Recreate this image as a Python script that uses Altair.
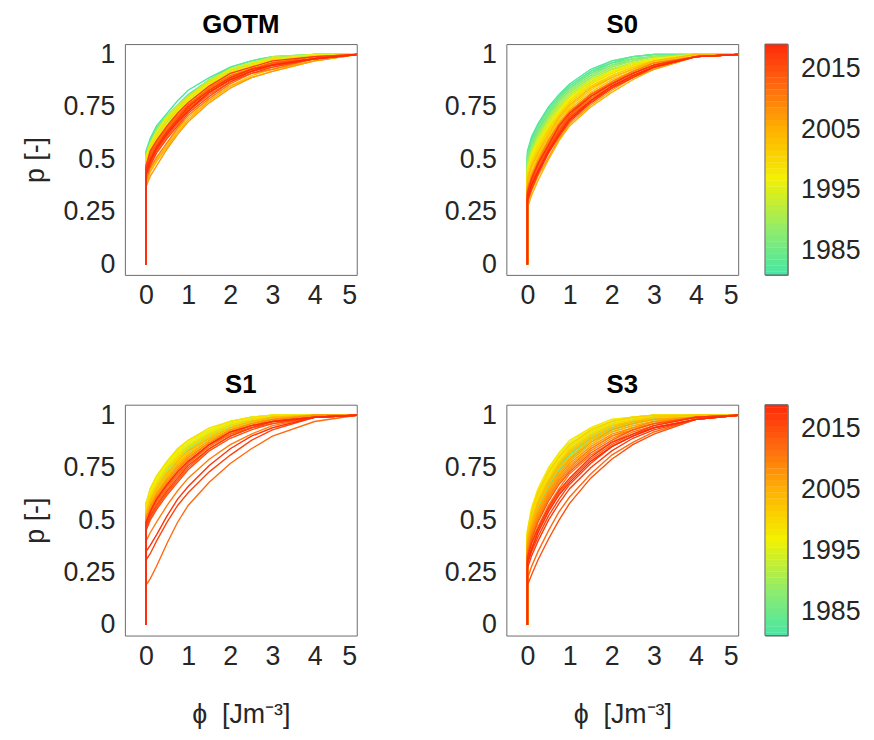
import altair as alt
import pandas as pd

YEARS = list(range(1981, 2020))
PHI = [0.0, 0.0, 0.1, 0.25, 0.5, 0.75, 1.0, 1.5, 2.0, 2.5, 3.0, 4.0, 5.0]
P_START = 0.0

GOTM = [
    [0.54, 0.60, 0.66, 0.72, 0.78, 0.83, 0.89, 0.94, 0.97, 0.99, 1.00, 1.00],
    [0.52, 0.58, 0.64, 0.70, 0.75, 0.80, 0.88, 0.93, 0.96, 0.98, 1.00, 1.00],
    [0.53, 0.59, 0.65, 0.71, 0.76, 0.81, 0.88, 0.94, 0.97, 0.99, 1.00, 1.00],
    [0.51, 0.57, 0.63, 0.69, 0.74, 0.80, 0.87, 0.92, 0.96, 0.98, 0.99, 1.00],
    [0.53, 0.58, 0.63, 0.70, 0.75, 0.80, 0.88, 0.93, 0.96, 0.98, 1.00, 1.00],
    [0.50, 0.56, 0.62, 0.69, 0.74, 0.79, 0.87, 0.92, 0.95, 0.98, 0.99, 1.00],
    [0.50, 0.55, 0.61, 0.68, 0.73, 0.79, 0.86, 0.91, 0.95, 0.97, 0.99, 1.00],
    [0.51, 0.57, 0.62, 0.69, 0.75, 0.80, 0.87, 0.93, 0.96, 0.98, 0.99, 1.00],
    [0.49, 0.55, 0.60, 0.67, 0.73, 0.78, 0.85, 0.91, 0.94, 0.97, 0.99, 1.00],
    [0.51, 0.56, 0.62, 0.68, 0.74, 0.79, 0.86, 0.92, 0.95, 0.98, 0.99, 1.00],
    [0.49, 0.55, 0.61, 0.68, 0.74, 0.78, 0.86, 0.92, 0.95, 0.97, 0.99, 1.00],
    [0.52, 0.58, 0.64, 0.71, 0.76, 0.80, 0.88, 0.93, 0.96, 0.99, 1.00, 1.00],
    [0.48, 0.54, 0.60, 0.67, 0.72, 0.78, 0.86, 0.91, 0.94, 0.97, 0.99, 1.00],
    [0.50, 0.56, 0.62, 0.69, 0.74, 0.79, 0.87, 0.92, 0.95, 0.97, 0.99, 1.00],
    [0.48, 0.54, 0.59, 0.66, 0.72, 0.77, 0.85, 0.90, 0.94, 0.96, 0.99, 1.00],
    [0.51, 0.57, 0.63, 0.70, 0.75, 0.79, 0.87, 0.93, 0.96, 0.98, 1.00, 1.00],
    [0.47, 0.53, 0.58, 0.65, 0.71, 0.76, 0.84, 0.90, 0.94, 0.96, 0.99, 1.00],
    [0.49, 0.54, 0.60, 0.67, 0.73, 0.78, 0.86, 0.91, 0.95, 0.97, 0.99, 1.00],
    [0.50, 0.56, 0.61, 0.69, 0.74, 0.80, 0.87, 0.92, 0.95, 0.98, 0.99, 1.00],
    [0.46, 0.52, 0.57, 0.64, 0.70, 0.76, 0.83, 0.89, 0.93, 0.96, 0.99, 1.00],
    [0.48, 0.53, 0.59, 0.66, 0.72, 0.77, 0.85, 0.90, 0.94, 0.97, 0.99, 1.00],
    [0.45, 0.51, 0.56, 0.63, 0.70, 0.75, 0.83, 0.89, 0.92, 0.95, 0.98, 1.00],
    [0.39, 0.45, 0.50, 0.57, 0.64, 0.70, 0.78, 0.85, 0.90, 0.93, 0.97, 1.00],
    [0.47, 0.52, 0.58, 0.65, 0.71, 0.76, 0.84, 0.90, 0.93, 0.96, 0.99, 1.00],
    [0.38, 0.44, 0.49, 0.56, 0.63, 0.69, 0.78, 0.85, 0.89, 0.92, 0.97, 1.00],
    [0.44, 0.50, 0.55, 0.62, 0.69, 0.74, 0.82, 0.88, 0.92, 0.95, 0.98, 1.00],
    [0.37, 0.42, 0.47, 0.55, 0.62, 0.68, 0.77, 0.84, 0.89, 0.92, 0.97, 1.00],
    [0.46, 0.51, 0.57, 0.64, 0.70, 0.75, 0.84, 0.89, 0.93, 0.96, 0.98, 1.00],
    [0.44, 0.49, 0.55, 0.62, 0.68, 0.74, 0.82, 0.88, 0.92, 0.95, 0.98, 1.00],
    [0.40, 0.46, 0.51, 0.58, 0.65, 0.71, 0.79, 0.86, 0.91, 0.93, 0.98, 1.00],
    [0.45, 0.51, 0.56, 0.64, 0.69, 0.75, 0.83, 0.89, 0.93, 0.95, 0.98, 1.00],
    [0.46, 0.53, 0.58, 0.65, 0.71, 0.76, 0.84, 0.90, 0.93, 0.96, 0.99, 1.00],
    [0.43, 0.48, 0.54, 0.61, 0.67, 0.73, 0.81, 0.87, 0.92, 0.94, 0.98, 1.00],
    [0.46, 0.52, 0.57, 0.64, 0.70, 0.76, 0.83, 0.89, 0.93, 0.96, 0.98, 1.00],
    [0.45, 0.50, 0.55, 0.63, 0.68, 0.74, 0.82, 0.88, 0.92, 0.95, 0.98, 1.00],
    [0.42, 0.47, 0.53, 0.60, 0.66, 0.72, 0.80, 0.87, 0.91, 0.94, 0.98, 1.00],
    [0.47, 0.54, 0.59, 0.66, 0.72, 0.77, 0.85, 0.91, 0.94, 0.97, 0.99, 1.00],
    [0.45, 0.50, 0.56, 0.63, 0.69, 0.75, 0.83, 0.89, 0.93, 0.95, 0.98, 1.00],
    [0.43, 0.49, 0.55, 0.62, 0.68, 0.73, 0.82, 0.88, 0.92, 0.95, 0.98, 1.00],
]

S0 = [
    [0.54, 0.61, 0.67, 0.75, 0.81, 0.86, 0.93, 0.97, 0.99, 1.00, 1.00, 1.00],
    [0.53, 0.60, 0.66, 0.74, 0.80, 0.85, 0.92, 0.96, 0.99, 1.00, 1.00, 1.00],
    [0.51, 0.58, 0.64, 0.72, 0.79, 0.84, 0.91, 0.96, 0.98, 0.99, 1.00, 1.00],
    [0.52, 0.59, 0.66, 0.74, 0.80, 0.85, 0.92, 0.97, 0.99, 1.00, 1.00, 1.00],
    [0.50, 0.57, 0.63, 0.71, 0.78, 0.83, 0.90, 0.95, 0.97, 0.99, 1.00, 1.00],
    [0.52, 0.58, 0.65, 0.73, 0.79, 0.84, 0.91, 0.95, 0.98, 0.99, 1.00, 1.00],
    [0.49, 0.55, 0.62, 0.70, 0.77, 0.82, 0.89, 0.94, 0.97, 0.99, 1.00, 1.00],
    [0.50, 0.56, 0.63, 0.71, 0.78, 0.83, 0.90, 0.95, 0.98, 0.99, 1.00, 1.00],
    [0.47, 0.54, 0.61, 0.69, 0.76, 0.81, 0.88, 0.93, 0.96, 0.98, 1.00, 1.00],
    [0.48, 0.55, 0.62, 0.70, 0.77, 0.82, 0.89, 0.94, 0.97, 0.99, 1.00, 1.00],
    [0.46, 0.53, 0.59, 0.68, 0.75, 0.80, 0.88, 0.93, 0.96, 0.98, 1.00, 1.00],
    [0.48, 0.54, 0.60, 0.69, 0.76, 0.81, 0.88, 0.93, 0.96, 0.98, 1.00, 1.00],
    [0.45, 0.52, 0.59, 0.67, 0.74, 0.80, 0.87, 0.92, 0.96, 0.98, 1.00, 1.00],
    [0.45, 0.51, 0.58, 0.66, 0.73, 0.79, 0.87, 0.92, 0.95, 0.97, 1.00, 1.00],
    [0.46, 0.53, 0.60, 0.68, 0.74, 0.80, 0.88, 0.92, 0.96, 0.98, 1.00, 1.00],
    [0.43, 0.50, 0.56, 0.65, 0.72, 0.78, 0.86, 0.91, 0.95, 0.97, 1.00, 1.00],
    [0.44, 0.52, 0.58, 0.66, 0.73, 0.79, 0.86, 0.92, 0.95, 0.98, 1.00, 1.00],
    [0.42, 0.49, 0.55, 0.64, 0.71, 0.77, 0.85, 0.90, 0.94, 0.97, 1.00, 1.00],
    [0.44, 0.50, 0.57, 0.65, 0.72, 0.78, 0.86, 0.91, 0.95, 0.97, 0.99, 1.00],
    [0.41, 0.47, 0.54, 0.63, 0.70, 0.76, 0.84, 0.90, 0.94, 0.96, 0.99, 1.00],
    [0.42, 0.48, 0.55, 0.64, 0.71, 0.77, 0.85, 0.90, 0.94, 0.97, 0.99, 1.00],
    [0.39, 0.46, 0.52, 0.61, 0.69, 0.75, 0.83, 0.89, 0.93, 0.96, 0.99, 1.00],
    [0.38, 0.44, 0.51, 0.60, 0.68, 0.74, 0.82, 0.88, 0.92, 0.96, 0.99, 1.00],
    [0.40, 0.47, 0.53, 0.62, 0.70, 0.76, 0.84, 0.89, 0.93, 0.97, 1.00, 1.00],
    [0.27, 0.33, 0.40, 0.50, 0.59, 0.66, 0.75, 0.82, 0.88, 0.93, 0.99, 1.00],
    [0.37, 0.43, 0.50, 0.59, 0.67, 0.73, 0.81, 0.87, 0.92, 0.95, 0.99, 1.00],
    [0.29, 0.35, 0.42, 0.51, 0.60, 0.67, 0.76, 0.83, 0.89, 0.93, 0.99, 1.00],
    [0.35, 0.41, 0.48, 0.58, 0.66, 0.72, 0.80, 0.87, 0.91, 0.95, 0.99, 1.00],
    [0.34, 0.40, 0.47, 0.56, 0.64, 0.71, 0.79, 0.86, 0.91, 0.95, 0.99, 1.00],
    [0.36, 0.42, 0.49, 0.59, 0.67, 0.73, 0.81, 0.87, 0.92, 0.96, 0.99, 1.00],
    [0.32, 0.39, 0.46, 0.55, 0.63, 0.70, 0.79, 0.85, 0.90, 0.94, 0.99, 1.00],
    [0.35, 0.41, 0.48, 0.57, 0.65, 0.72, 0.81, 0.86, 0.91, 0.95, 0.99, 1.00],
    [0.31, 0.37, 0.44, 0.54, 0.62, 0.69, 0.78, 0.84, 0.90, 0.94, 0.99, 1.00],
    [0.33, 0.40, 0.47, 0.56, 0.64, 0.71, 0.80, 0.86, 0.91, 0.95, 0.99, 1.00],
    [0.32, 0.38, 0.45, 0.54, 0.62, 0.69, 0.77, 0.84, 0.89, 0.94, 0.99, 1.00],
    [0.33, 0.39, 0.45, 0.55, 0.63, 0.70, 0.78, 0.85, 0.90, 0.94, 0.99, 1.00],
    [0.30, 0.36, 0.43, 0.53, 0.61, 0.68, 0.77, 0.84, 0.89, 0.94, 0.99, 1.00],
    [0.34, 0.41, 0.48, 0.57, 0.66, 0.72, 0.80, 0.86, 0.91, 0.95, 0.99, 1.00],
    [0.31, 0.38, 0.44, 0.54, 0.62, 0.69, 0.78, 0.85, 0.90, 0.94, 0.99, 1.00],
]

S1 = [
    [0.57, 0.62, 0.67, 0.74, 0.79, 0.84, 0.90, 0.95, 0.97, 0.99, 1.00, 1.00],
    [0.58, 0.63, 0.68, 0.75, 0.80, 0.85, 0.91, 0.95, 0.98, 0.99, 1.00, 1.00],
    [0.55, 0.60, 0.66, 0.72, 0.78, 0.83, 0.89, 0.94, 0.97, 0.99, 1.00, 1.00],
    [0.58, 0.63, 0.68, 0.75, 0.81, 0.85, 0.91, 0.96, 0.98, 0.99, 1.00, 1.00],
    [0.56, 0.61, 0.67, 0.74, 0.79, 0.84, 0.90, 0.95, 0.97, 0.99, 1.00, 1.00],
    [0.53, 0.59, 0.64, 0.71, 0.77, 0.82, 0.89, 0.94, 0.97, 0.99, 1.00, 1.00],
    [0.57, 0.62, 0.68, 0.75, 0.80, 0.85, 0.91, 0.95, 0.98, 0.99, 1.00, 1.00],
    [0.55, 0.61, 0.66, 0.73, 0.79, 0.83, 0.90, 0.95, 0.97, 0.99, 1.00, 1.00],
    [0.57, 0.63, 0.69, 0.76, 0.82, 0.86, 0.92, 0.96, 0.98, 1.00, 1.00, 1.00],
    [0.55, 0.61, 0.66, 0.74, 0.79, 0.84, 0.90, 0.95, 0.97, 0.99, 1.00, 1.00],
    [0.56, 0.62, 0.68, 0.75, 0.81, 0.85, 0.91, 0.96, 0.98, 0.99, 1.00, 1.00],
    [0.57, 0.64, 0.70, 0.77, 0.83, 0.87, 0.93, 0.97, 0.99, 1.00, 1.00, 1.00],
    [0.55, 0.61, 0.67, 0.75, 0.80, 0.85, 0.91, 0.95, 0.98, 0.99, 1.00, 1.00],
    [0.56, 0.63, 0.69, 0.76, 0.82, 0.86, 0.92, 0.96, 0.98, 1.00, 1.00, 1.00],
    [0.58, 0.65, 0.71, 0.78, 0.84, 0.88, 0.93, 0.97, 0.99, 1.00, 1.00, 1.00],
    [0.56, 0.63, 0.69, 0.76, 0.82, 0.86, 0.92, 0.96, 0.98, 0.99, 1.00, 1.00],
    [0.57, 0.64, 0.70, 0.77, 0.83, 0.87, 0.93, 0.97, 0.99, 1.00, 1.00, 1.00],
    [0.55, 0.62, 0.68, 0.75, 0.81, 0.85, 0.92, 0.96, 0.98, 0.99, 1.00, 1.00],
    [0.57, 0.65, 0.71, 0.78, 0.84, 0.88, 0.94, 0.97, 0.99, 1.00, 1.00, 1.00],
    [0.54, 0.61, 0.67, 0.75, 0.80, 0.85, 0.91, 0.95, 0.98, 0.99, 1.00, 1.00],
    [0.53, 0.60, 0.66, 0.73, 0.79, 0.83, 0.90, 0.94, 0.97, 0.99, 1.00, 1.00],
    [0.52, 0.58, 0.64, 0.71, 0.77, 0.82, 0.89, 0.94, 0.97, 0.98, 1.00, 1.00],
    [0.51, 0.57, 0.62, 0.70, 0.76, 0.81, 0.88, 0.93, 0.96, 0.98, 1.00, 1.00],
    [0.53, 0.59, 0.65, 0.72, 0.78, 0.83, 0.89, 0.94, 0.97, 0.99, 1.00, 1.00],
    [0.50, 0.56, 0.61, 0.68, 0.74, 0.80, 0.87, 0.92, 0.96, 0.98, 1.00, 1.00],
    [0.52, 0.57, 0.63, 0.70, 0.76, 0.81, 0.88, 0.93, 0.96, 0.98, 1.00, 1.00],
    [0.49, 0.55, 0.60, 0.67, 0.73, 0.78, 0.86, 0.92, 0.95, 0.97, 0.99, 1.00],
    [0.51, 0.56, 0.62, 0.69, 0.75, 0.80, 0.87, 0.93, 0.96, 0.98, 1.00, 1.00],
    [0.50, 0.55, 0.61, 0.68, 0.74, 0.79, 0.87, 0.92, 0.95, 0.98, 0.99, 1.00],
    [0.40, 0.44, 0.49, 0.57, 0.64, 0.70, 0.79, 0.86, 0.91, 0.95, 0.99, 1.00],
    [0.47, 0.53, 0.58, 0.65, 0.71, 0.77, 0.85, 0.91, 0.94, 0.97, 0.99, 1.00],
    [0.19, 0.22, 0.28, 0.39, 0.49, 0.57, 0.68, 0.77, 0.84, 0.90, 0.97, 1.00],
    [0.48, 0.54, 0.59, 0.66, 0.72, 0.77, 0.86, 0.91, 0.95, 0.97, 0.99, 1.00],
    [0.46, 0.51, 0.56, 0.63, 0.69, 0.75, 0.84, 0.90, 0.94, 0.96, 0.99, 1.00],
    [0.45, 0.50, 0.55, 0.62, 0.68, 0.74, 0.83, 0.89, 0.93, 0.96, 0.99, 1.00],
    [0.31, 0.34, 0.40, 0.49, 0.57, 0.63, 0.73, 0.81, 0.88, 0.93, 0.99, 1.00],
    [0.47, 0.52, 0.57, 0.64, 0.70, 0.76, 0.84, 0.90, 0.94, 0.97, 0.99, 1.00],
    [0.35, 0.38, 0.43, 0.52, 0.60, 0.66, 0.76, 0.84, 0.90, 0.94, 0.99, 1.00],
    [0.49, 0.54, 0.60, 0.67, 0.73, 0.78, 0.86, 0.92, 0.95, 0.97, 0.99, 1.00],
]

S3 = [
    [0.40, 0.48, 0.57, 0.67, 0.75, 0.80, 0.88, 0.93, 0.96, 0.98, 0.99, 1.00],
    [0.41, 0.50, 0.58, 0.68, 0.76, 0.81, 0.89, 0.94, 0.97, 0.98, 1.00, 1.00],
    [0.39, 0.47, 0.56, 0.66, 0.74, 0.79, 0.88, 0.93, 0.96, 0.98, 0.99, 1.00],
    [0.41, 0.51, 0.59, 0.69, 0.77, 0.83, 0.90, 0.95, 0.97, 0.99, 1.00, 1.00],
    [0.40, 0.49, 0.57, 0.67, 0.75, 0.81, 0.89, 0.94, 0.96, 0.98, 0.99, 1.00],
    [0.40, 0.50, 0.58, 0.68, 0.76, 0.82, 0.89, 0.94, 0.97, 0.98, 1.00, 1.00],
    [0.38, 0.46, 0.54, 0.64, 0.72, 0.78, 0.87, 0.92, 0.95, 0.97, 0.99, 1.00],
    [0.42, 0.51, 0.59, 0.69, 0.77, 0.83, 0.90, 0.95, 0.97, 0.99, 1.00, 1.00],
    [0.42, 0.52, 0.60, 0.70, 0.78, 0.84, 0.91, 0.96, 0.98, 0.99, 1.00, 1.00],
    [0.39, 0.48, 0.57, 0.67, 0.75, 0.80, 0.88, 0.94, 0.96, 0.98, 0.99, 1.00],
    [0.43, 0.53, 0.62, 0.72, 0.80, 0.85, 0.92, 0.96, 0.98, 0.99, 1.00, 1.00],
    [0.41, 0.51, 0.59, 0.69, 0.77, 0.82, 0.90, 0.95, 0.97, 0.99, 1.00, 1.00],
    [0.44, 0.54, 0.63, 0.73, 0.81, 0.86, 0.93, 0.97, 0.99, 1.00, 1.00, 1.00],
    [0.42, 0.52, 0.60, 0.70, 0.78, 0.84, 0.91, 0.96, 0.98, 0.99, 1.00, 1.00],
    [0.45, 0.55, 0.64, 0.74, 0.82, 0.87, 0.94, 0.98, 0.99, 1.00, 1.00, 1.00],
    [0.43, 0.53, 0.61, 0.71, 0.79, 0.85, 0.92, 0.97, 0.98, 0.99, 1.00, 1.00],
    [0.44, 0.54, 0.63, 0.73, 0.81, 0.86, 0.93, 0.97, 0.99, 1.00, 1.00, 1.00],
    [0.45, 0.56, 0.65, 0.75, 0.82, 0.88, 0.94, 0.98, 0.99, 1.00, 1.00, 1.00],
    [0.43, 0.52, 0.61, 0.72, 0.80, 0.85, 0.92, 0.96, 0.98, 0.99, 1.00, 1.00],
    [0.42, 0.52, 0.60, 0.70, 0.78, 0.84, 0.91, 0.95, 0.98, 0.99, 1.00, 1.00],
    [0.44, 0.54, 0.63, 0.73, 0.80, 0.86, 0.93, 0.97, 0.99, 1.00, 1.00, 1.00],
    [0.41, 0.50, 0.59, 0.69, 0.77, 0.83, 0.90, 0.95, 0.97, 0.99, 1.00, 1.00],
    [0.40, 0.48, 0.57, 0.67, 0.75, 0.80, 0.88, 0.93, 0.96, 0.98, 0.99, 1.00],
    [0.41, 0.49, 0.58, 0.68, 0.76, 0.82, 0.89, 0.94, 0.97, 0.98, 0.99, 1.00],
    [0.38, 0.46, 0.54, 0.64, 0.72, 0.78, 0.86, 0.92, 0.95, 0.97, 0.99, 1.00],
    [0.39, 0.47, 0.55, 0.65, 0.73, 0.79, 0.87, 0.93, 0.96, 0.98, 0.99, 1.00],
    [0.36, 0.44, 0.52, 0.62, 0.70, 0.76, 0.84, 0.90, 0.94, 0.96, 0.99, 1.00],
    [0.37, 0.45, 0.53, 0.63, 0.71, 0.77, 0.85, 0.91, 0.94, 0.97, 0.99, 1.00],
    [0.34, 0.42, 0.50, 0.60, 0.68, 0.74, 0.83, 0.89, 0.93, 0.96, 0.99, 1.00],
    [0.35, 0.43, 0.51, 0.61, 0.69, 0.75, 0.84, 0.90, 0.93, 0.96, 0.99, 1.00],
    [0.32, 0.40, 0.47, 0.57, 0.65, 0.72, 0.81, 0.87, 0.92, 0.95, 0.99, 1.00],
    [0.22, 0.28, 0.35, 0.45, 0.54, 0.61, 0.72, 0.81, 0.87, 0.92, 0.98, 1.00],
    [0.31, 0.37, 0.45, 0.55, 0.63, 0.69, 0.79, 0.86, 0.91, 0.94, 0.98, 1.00],
    [0.33, 0.41, 0.49, 0.59, 0.67, 0.73, 0.82, 0.88, 0.93, 0.96, 0.99, 1.00],
    [0.19, 0.24, 0.31, 0.41, 0.50, 0.58, 0.70, 0.79, 0.86, 0.91, 0.98, 1.00],
    [0.29, 0.35, 0.42, 0.52, 0.60, 0.67, 0.77, 0.85, 0.90, 0.94, 0.98, 1.00],
    [0.27, 0.33, 0.40, 0.50, 0.58, 0.65, 0.75, 0.83, 0.89, 0.93, 0.98, 1.00],
    [0.32, 0.39, 0.46, 0.56, 0.64, 0.70, 0.80, 0.87, 0.91, 0.95, 0.99, 1.00],
    [0.30, 0.36, 0.44, 0.54, 0.62, 0.68, 0.78, 0.85, 0.90, 0.94, 0.98, 1.00],
]

COLOR_STOP_YEARS = [1981, 1988, 1997, 2005, 2012, 2019]
COLOR_STOPS = ["#48E6A4", "#8CEC70", "#F4F000", "#FFB000", "#FF6A10", "#FF2A0A"]
X_TICKS = [0, 1, 2, 3, 4, 5]
Y_TICKS = [0, 0.25, 0.5, 0.75, 1]
CB_TICKS = [1985, 1995, 2005, 2015]
FONT = "Liberation Sans"
FS = 27
PW, PH = 234, 233
CBW = 23

color_scale = alt.Scale(domain=COLOR_STOP_YEARS, range=COLOR_STOPS, interpolate="rgb")


def panel_df(rows):
    recs = []
    for year, row in zip(YEARS, rows):
        ps = [P_START] + list(row)
        for i, (x, p) in enumerate(zip(PHI, ps)):
            recs.append({"year": year, "phi": x, "p": p, "i": i})
    return pd.DataFrame(recs)


def panel(rows, title, ytitle, xtitle):
    xkw = dict(values=X_TICKS, format="d", labelPadding=8)
    if xtitle:
        xkw["title"] = "\u03d5\u00a0\u00a0[Jm\u207b\u00b3]"
        xkw["titlePadding"] = 33
    else:
        xkw["title"] = ""
    ykw = dict(values=Y_TICKS, format=".2~f", labelPadding=10)
    if ytitle:
        ykw["title"] = "p [-]"
        ykw["titlePadding"] = 14
    else:
        ykw["title"] = ""
    return (
        alt.Chart(panel_df(rows))
        .mark_line(strokeWidth=1.4, clip=True)
        .encode(
            x=alt.X("phi:Q", scale=alt.Scale(domain=[-0.5, 5], nice=False, zero=False), axis=alt.Axis(**xkw)),
            y=alt.Y("p:Q", scale=alt.Scale(domain=[-0.05, 1.05], nice=False, zero=False), axis=alt.Axis(**ykw)),
            color=alt.Color("year:Q", scale=color_scale, legend=None),
            detail="year:N",
            order="i:Q",
        )
        .properties(
            width=PW,
            height=PH,
            title=alt.TitleParams(title, fontSize=26, fontWeight="bold", frame="group", anchor="middle", offset=3, font=FONT),
        )
    )


def colorbar():
    df = pd.DataFrame({"year": YEARS})
    bars = (
        alt.Chart(df)
        .transform_calculate(y0="datum.year - 0.5", y1="datum.year + 0.55")
        .mark_rect(clip=True)
        .encode(
            x=alt.value(0),
            x2=alt.value(CBW),
            y=alt.Y(
                "y0:Q",
                scale=alt.Scale(domain=[1981, 2019], nice=False, zero=False),
                axis=alt.Axis(orient="right", values=CB_TICKS, format="d", title="", labelPadding=13),
            ),
            y2="y1:Q",
            color=alt.Color("year:Q", scale=color_scale, legend=None),
        )
    )
    frame = (
        alt.Chart(pd.DataFrame({"k": [0]}))
        .mark_rect(fill=None, stroke="#6b6b6b", strokeWidth=1)
        .encode(x=alt.value(0), x2=alt.value(CBW), y=alt.value(0), y2=alt.value(PH))
    )
    return alt.layer(bars, frame).properties(width=CBW, height=PH)


row1 = alt.hconcat(
    alt.hconcat(panel(GOTM, "GOTM", True, False), panel(S0, "S0", False, False), spacing=86),
    colorbar(),
    spacing=25,
)
row2 = alt.hconcat(
    alt.hconcat(panel(S1, "S1", True, True), panel(S3, "S3", False, True), spacing=86),
    colorbar(),
    spacing=25,
)

chart = (
    alt.vconcat(row1, row2, spacing=63)
    .properties(padding={"left": 12, "top": 0, "right": 5, "bottom": 5})
    .configure(font=FONT)
    .configure_view(stroke="#6b6b6b", strokeWidth=1)
    .configure_axis(
        grid=False,
        ticks=False,
        domain=False,
        labelFontSize=FS,
        titleFontSize=FS,
        titleFontWeight="normal",
        labelColor="#262626",
        titleColor="#262626",
        labelFont=FONT,
        titleFont=FONT,
    )
)

chart.save("out.html", embed_options={"renderer": "svg", "actions": False})
